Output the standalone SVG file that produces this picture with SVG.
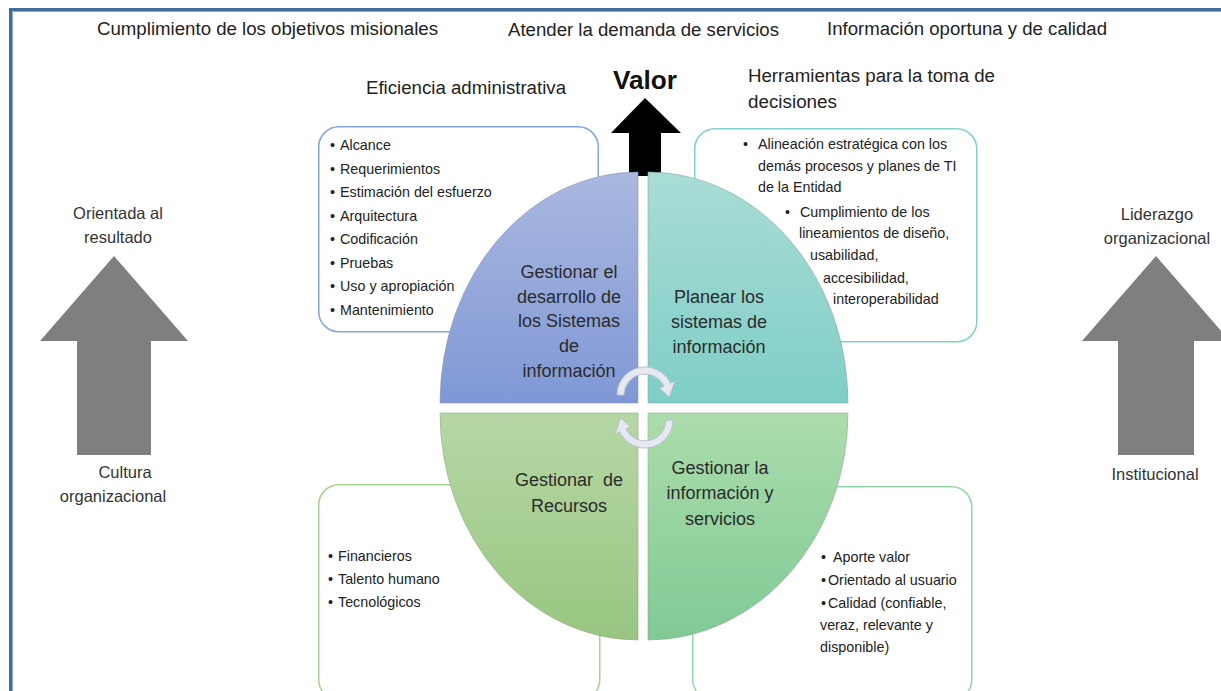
<svg xmlns="http://www.w3.org/2000/svg" width="1221" height="691" viewBox="0 0 1221 691">
<style>
.top{font-family:"Liberation Sans",Arial,sans-serif;font-size:18px;fill:#222}
.side{font-family:"Liberation Sans",Arial,sans-serif;font-size:16.5px;fill:#333;text-anchor:middle}
.mid{font-family:"Liberation Sans",Arial,sans-serif;font-size:18px;fill:#2b2b2b;text-anchor:middle}
.box{font-family:"Liberation Sans",Arial,sans-serif;font-size:14.3px;fill:#222}
</style>
<defs>
<linearGradient id="gBlue" x1="0" y1="0" x2="0" y2="1"><stop offset="0" stop-color="#aab8e0"/><stop offset="1" stop-color="#7f98d5"/></linearGradient>
<linearGradient id="gTeal" x1="0" y1="0" x2="0" y2="1"><stop offset="0" stop-color="#a9ddd6"/><stop offset="1" stop-color="#7fcec6"/></linearGradient>
<linearGradient id="gGreen" x1="0" y1="0" x2="0" y2="1"><stop offset="0" stop-color="#b6d7a5"/><stop offset="1" stop-color="#98c681"/></linearGradient>
<linearGradient id="gMint" x1="0" y1="0" x2="0" y2="1"><stop offset="0" stop-color="#acdcac"/><stop offset="1" stop-color="#80ca95"/></linearGradient>
</defs>
<rect width="1221" height="691" fill="#fff"/>
<!-- frame -->
<g id="frame">
<path d="M10.5 691 V9.5 H1221" fill="none" stroke="#3f6e9e" stroke-width="3"/>
<path d="M12.5 691 V11.5 H1221" fill="none" stroke="#8aa8cc" stroke-width="1"/>
</g>
<!-- top labels -->
<g id="labels-top">
<text class="top" x="97" y="35" textLength="341" lengthAdjust="spacingAndGlyphs">Cumplimiento de los objetivos misionales</text>
<text class="top" x="508" y="36" textLength="271" lengthAdjust="spacingAndGlyphs">Atender la demanda de servicios</text>
<text class="top" x="827" y="35" textLength="280" lengthAdjust="spacingAndGlyphs">Información oportuna y de calidad</text>
<text class="top" x="366" y="94" textLength="200" lengthAdjust="spacingAndGlyphs">Eficiencia administrativa</text>
<text class="top" x="748" y="82" textLength="247" lengthAdjust="spacingAndGlyphs">Herramientas para la toma de</text>
<text class="top" x="748" y="108" textLength="89" lengthAdjust="spacingAndGlyphs">decisiones</text>
</g>
<!-- detail boxes (behind ellipse) -->
<g id="box-desarrollo">
<rect x="318.75" y="126.75" width="279.5" height="205" rx="20" fill="#fff" stroke="#85a4de" stroke-width="1.5"/>
<text class="box" x="330" y="150">•<tspan x="340">Alcance</tspan></text>
<text class="box" x="330" y="173.5">•<tspan x="340">Requerimientos</tspan></text>
<text class="box" x="330" y="197">•<tspan x="340">Estimación del esfuerzo</tspan></text>
<text class="box" x="330" y="220.5">•<tspan x="340">Arquitectura</tspan></text>
<text class="box" x="330" y="244">•<tspan x="340">Codificación</tspan></text>
<text class="box" x="330" y="267.5">•<tspan x="340">Pruebas</tspan></text>
<text class="box" x="330" y="291">•<tspan x="340">Uso y apropiación</tspan></text>
<text class="box" x="330" y="314.5">•<tspan x="340">Mantenimiento</tspan></text>
</g>
<g id="box-planear">
<rect x="694.75" y="128.75" width="282" height="213" rx="20" fill="#fff" stroke="#7fd2ca" stroke-width="1.5"/>
<text class="box" x="743" y="149">•<tspan x="758">Alineación estratégica con los</tspan></text>
<text class="box" x="758" y="170.5">demás procesos y planes de TI</text>
<text class="box" x="758" y="192">de la Entidad</text>
<text class="box" x="785" y="217">•<tspan x="800">Cumplimiento de los</tspan></text>
<text class="box" x="799" y="238">lineamientos de diseño,</text>
<text class="box" x="810" y="260">usabilidad,</text>
<text class="box" x="823" y="283">accesibilidad,</text>
<text class="box" x="833" y="304">interoperabilidad</text>
</g>
<g id="box-recursos">
<rect x="318.75" y="484.75" width="281" height="215" rx="20" fill="#fff" stroke="#a9d18f" stroke-width="1.5"/>
<text class="box" x="328" y="561">•<tspan x="338">Financieros</tspan></text>
<text class="box" x="328" y="584">•<tspan x="338">Talento humano</tspan></text>
<text class="box" x="328" y="607">•<tspan x="338">Tecnológicos</tspan></text>
</g>
<g id="box-informacion">
<rect x="692.75" y="486.75" width="279" height="213" rx="20" fill="#fff" stroke="#93d7a7" stroke-width="1.5"/>
<text class="box" x="821" y="562">•<tspan x="833">Aporte valor</tspan></text>
<text class="box" x="821" y="585">•<tspan x="828">Orientado al usuario</tspan></text>
<text class="box" x="821" y="608">•<tspan x="828">Calidad (confiable,</tspan></text>
<text class="box" x="820" y="630">veraz, relevante y</text>
<text class="box" x="820" y="652">disponible)</text>
</g>
<!-- Valor arrow -->
<g id="valor">
<polygon points="645,98 681,133 661,133 661,176 629,176 629,133 611,133" fill="#000"/>
<text x="645" y="89" text-anchor="middle" font-family="'Liberation Sans',Arial,sans-serif" font-weight="bold" font-size="25" fill="#111" textLength="64" lengthAdjust="spacingAndGlyphs">Valor</text>
</g>
<!-- quadrants -->
<g id="q-desarrollo">
<path d="M638 403 L440 403 A198 231 0 0 1 638 172 Z" fill="url(#gBlue)" stroke="#8b96b0" stroke-width="0.6"/>
<text class="mid" x="569" y="278">Gestionar el</text>
<text class="mid" x="569" y="303">desarrollo de</text>
<text class="mid" x="569" y="327">los Sistemas</text>
<text class="mid" x="569" y="352">de</text>
<text class="mid" x="569" y="377">información</text>
</g>
<g id="q-planear">
<path d="M648 403 L648 172 A200 231 0 0 1 848 403 Z" fill="url(#gTeal)" stroke="#8aaaa6" stroke-width="0.6"/>
<text class="mid" x="719" y="303">Planear los</text>
<text class="mid" x="719" y="328">sistemas de</text>
<text class="mid" x="719" y="353">información</text>
</g>
<g id="q-recursos">
<path d="M638 413 L638 640 A198 227 0 0 1 440 413 Z" fill="url(#gGreen)" stroke="#98aa8c" stroke-width="0.6"/>
<text class="mid" x="569" y="486" xml:space="preserve">Gestionar  de</text>
<text class="mid" x="569" y="512">Recursos</text>
</g>
<g id="q-informacion">
<path d="M648 413 L848 413 A200 227 0 0 1 648 640 Z" fill="url(#gMint)" stroke="#8fae98" stroke-width="0.6"/>
<text class="mid" x="720" y="474">Gestionar la</text>
<text class="mid" x="720" y="499">información y</text>
<text class="mid" x="720" y="525">servicios</text>
</g>
<!-- cycle arrows -->
<g id="connectors">
<path d="M617 395 A28 28 0 0 1 670.4 383.2 L674.9 381.1 L669.4 397.1 L659.5 388.2 L664 386.1 A21 21 0 0 0 624 395 Z" fill="#e6e9f2" stroke="#b9c0d0" stroke-width="1"/>
<path d="M673 420 A28 28 0 0 1 619.6 431.8 L615.1 433.9 L620.6 417.9 L630.5 426.8 L626 428.9 A21 21 0 0 0 666 420 Z" fill="#e6e9f2" stroke="#b9c0d0" stroke-width="1"/>
</g>
<!-- side arrows -->
<g id="arrow-left">
<polygon points="114,256 188,341 151,341 151,455 77,455 77,341 40,341" fill="#7f7f7f"/>
<text class="side" x="118" y="219">Orientada al</text>
<text class="side" x="118" y="243">resultado</text>
<text class="side" x="125" y="478">Cultura</text>
<text class="side" x="113" y="502">organizacional</text>
</g>
<g id="arrow-right">
<polygon points="1156,256 1230,341 1194,341 1194,455 1118,455 1118,341 1082,341" fill="#7f7f7f"/>
<text class="side" x="1157" y="220">Liderazgo</text>
<text class="side" x="1157" y="244">organizacional</text>
<text class="side" x="1155" y="480">Institucional</text>
</g>
</svg>
